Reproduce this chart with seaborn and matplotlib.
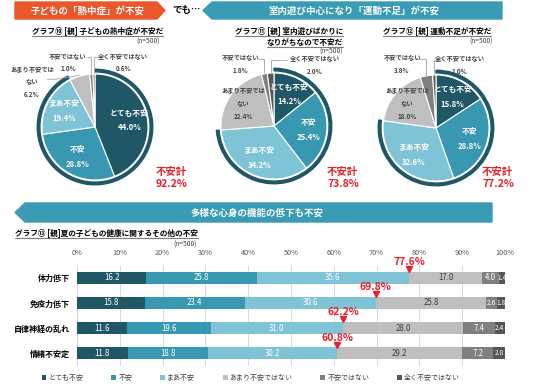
import numpy as np
import pandas as pd
import matplotlib
matplotlib.use('Agg')
import matplotlib.pyplot as plt
from matplotlib.patches import Polygon, Wedge, Patch
import seaborn as sns

sns.set_theme(style='white')
plt.rcParams['font.family'] = ['Noto Sans CJK JP', 'DejaVu Sans']

# answer levels (shared by pies and bars)
levels = ['とても不安', '不安', 'まあ不安', 'あまり不安ではない', '不安ではない', '全く不安ではない']
colors = ['#1f5767', '#3898b2', '#7fc3d6', '#bfbfbf', '#808080', '#565656']

# pie data (%)
heat_vals = [44.0, 28.8, 19.4, 6.2, 1.0, 0.6]
indoor_vals = [14.2, 25.4, 34.2, 22.4, 1.8, 2.0]
exercise_vals = [15.8, 28.8, 32.6, 18.0, 3.8, 1.0]

# bar data (%)
bar_cats = ['体力低下', '免疫力低下', '自律神経の乱れ', '情緒不安定']
very_anx = [16.2, 15.8, 11.6, 11.8]
anx = [25.8, 23.4, 19.6, 18.8]
somewhat_anx = [35.6, 30.6, 31.0, 30.2]
not_much = [17.0, 25.8, 28.0, 29.2]
not_anx = [4.0, 2.6, 7.4, 7.2]
not_at_all = [1.4, 1.8, 2.4, 2.8]

W, H = 536, 386
RED = '#e8202a'
DARK = '#404040'

fig = plt.figure(figsize=(W / 100, H / 100), dpi=100)

# overlay axes in pixel coordinates for banners and titles
ax_bg = fig.add_axes([0, 0, 1, 1])
ax_bg.set_xlim(0, W)
ax_bg.set_ylim(H, 0)
ax_bg.axis('off')

ax_bg.add_patch(Polygon([(15, 2), (157, 2), (165, 10.5), (157, 19), (15, 19)], color='#e9572b'))
ax_bg.text(88, 10.5, '子どもの「熱中症」が不安', color='white', fontsize=6.8, fontweight='bold', ha='center', va='center')
ax_bg.text(172, 10.5, 'でも…', color='black', fontsize=6.8, fontweight='bold', ha='left', va='center')
ax_bg.add_patch(Polygon([(203, 10.5), (212, 2), (502, 2), (502, 19), (212, 19)], color='#3a9cb4'))
ax_bg.text(354, 10.5, '室内遊び中心になり「運動不足」が不安', color='white', fontsize=6.8, fontweight='bold', ha='center', va='center')
ax_bg.add_patch(Polygon([(15, 212.5), (25, 203), (492, 203), (492, 222), (25, 222)], color='#3a9cb4'))
ax_bg.text(257, 212.5, '多様な心身の機能の低下も不安', color='white', fontsize=6.8, fontweight='bold', ha='center', va='center')

renderer = fig.canvas.get_renderer()


def title(x, y, s, ha='left'):
    t = ax_bg.text(x, y, s, fontsize=5.5, fontweight='bold', ha=ha, va='center', color='black')
    bb = t.get_window_extent(renderer=renderer)
    ax_bg.plot([bb.x0, bb.x1], [H - bb.y0 + 0.5] * 2, color='#7f7f7f', lw=0.8)


title(32, 31, 'グラフ⑩ [親] 子どもの熱中症が不安だ')
ax_bg.text(160, 42, '(n=500)', fontsize=4.8, ha='right', va='center', color=DARK)
title(343, 31, 'グラフ⑪ [親] 室内遊びばかりに', ha='right')
title(343, 42, 'なりがちなので不安だ', ha='right')
ax_bg.text(343, 52, '(n=500)', fontsize=4.8, ha='right', va='center', color=DARK)
title(383, 31, 'グラフ⑫ [親] 運動不足が不安だ')
ax_bg.text(493, 42, '(n=500)', fontsize=4.8, ha='right', va='center', color=DARK)
title(15, 233, 'グラフ⑬ [親]夏の子どもの健康に関するその他の不安')
ax_bg.text(197, 245, '(n=500)', fontsize=4.8, ha='right', va='center', color=DARK)

R_PX = 53


def draw_pie(cx, cy, vals, outside, total_xy, gray_inside):
    ax = fig.add_axes([(cx - 90) / W, 1 - (cy + 90) / H, 180 / W, 180 / H])
    ax.pie(vals, colors=colors, startangle=90, counterclock=False, radius=1,
           wedgeprops=dict(edgecolor='white', linewidth=0.8))
    lim = 90 / R_PX
    ax.set_xlim(-lim, lim)
    ax.set_ylim(-lim, lim)
    ax.set_aspect('equal')
    ax.axis('off')
    total = sum(vals[:3])
    ax.add_patch(Wedge((0, 0), 1.09, 90 - total * 3.6, 90, width=0.05, color=colors[0]))
    cum = np.cumsum([0] + vals[:-1])
    mids = np.deg2rad(90 - (cum + np.array(vals) / 2) * 3.6)
    for i in range(3):
        x, y = 0.66 * np.cos(mids[i]), 0.66 * np.sin(mids[i])
        ax.text(x, y + 0.14, levels[i], color='white', fontsize=5.6, fontweight='bold', ha='center', va='center')
        ax.text(x, y - 0.14, f'{vals[i]:.1f}%', color='white', fontsize=5.6, fontweight='bold', ha='center', va='center')
    if gray_inside:
        x, y = 0.72 * np.cos(mids[3]), 0.72 * np.sin(mids[3])
        ax.text(x, y, f'あまり不安では\nない\n{vals[3]:.1f}%', color=DARK, fontsize=4.5,
                fontweight='bold', ha='center', va='center', linespacing=2.0)
    for idx, (lx, ly, ex) in outside.items():
        lab = 'あまり不安では\nない' if idx == 3 else levels[idx]
        ax.text(lx, ly, f'{lab}\n{vals[idx]:.1f}%', color=DARK, fontsize=4.5, fontweight='bold',
                ha='center', va='center', linespacing=1.9)
        xs, ys = 1.02 * np.cos(mids[idx]), 1.02 * np.sin(mids[idx])
        if idx == 3:
            ax.plot([xs, ex, ex - 0.15], [ys, ly + 0.05, ly + 0.05], color='#a6a6a6', lw=0.6)
        else:
            ax.plot([xs, xs, ex], [ys, ly + 0.1, ly + 0.1], color='#a6a6a6', lw=0.6)
    ax.text(total_xy[0], total_xy[1], f'不安計\n{total:.1f}%', color=RED, fontsize=7.5, fontweight='bold',
            ha='left', va='center', linespacing=1.3)


draw_pie(95, 127, heat_vals,
         {4: (-0.51, 1.22, -0.15), 5: (0.53, 1.22, 0.12), 3: (-1.19, 0.85, -0.75)},
         (1.15, -0.96), False)
draw_pie(274, 126, indoor_vals,
         {4: (-0.64, 1.17, -0.3), 5: (0.77, 1.15, 0.25)},
         (1.0, -0.98), True)
draw_pie(436, 128, exercise_vals,
         {4: (-0.64, 1.21, -0.35), 5: (0.45, 1.19, 0.1)},
         (0.87, -0.94), True)

# stacked horizontal bars
df = pd.DataFrame({'cat': bar_cats, levels[0]: very_anx, levels[1]: anx, levels[2]: somewhat_anx,
                   levels[3]: not_much, levels[4]: not_anx, levels[5]: not_at_all})
cum = df[levels].cumsum(axis=1)

ax_bar = fig.add_axes([77 / W, 1 - 366 / H, 428 / W, 101 / H])
for lev, col in reversed(list(zip(levels, colors))):
    sns.barplot(x=cum[lev], y=df['cat'], color=col, width=0.48, saturation=1, orient='h',
                linewidth=0, ax=ax_bar, zorder=2)
ax_bar.set_xlim(0, 100)
ax_bar.set_ylim(3.5, -0.5)
ax_bar.set_xlabel('')
ax_bar.set_ylabel('')
ax_bar.xaxis.tick_top()
ax_bar.set_xticks(range(0, 101, 10))
ax_bar.set_xticklabels([f'{t}%' for t in range(0, 101, 10)])
ax_bar.tick_params(axis='x', length=0, pad=5.5, labelsize=5.3, labelcolor='#595959')
ax_bar.tick_params(axis='y', length=0, pad=5, labelsize=5.8)
for lbl in ax_bar.get_yticklabels():
    lbl.set_fontweight('bold')
    lbl.set_color('black')
ax_bar.grid(axis='x', color='#d9d9d9', lw=0.7, zorder=0)
ax_bar.grid(axis='y', visible=False)
ax_bar.set_axisbelow(True)
for s in ax_bar.spines.values():
    s.set_visible(False)

txt_colors = ['white', 'white', 'white', DARK, 'white', 'white']
for i in range(len(bar_cats)):
    left = 0
    for lev, tc in zip(levels, txt_colors):
        v = df.loc[i, lev]
        fs = 5.7 if v >= 3 else 4.8
        ax_bar.text(left + v / 2, i, f'{v:.1f}', color=tc, fontsize=fs, ha='center', va='center', zorder=3)
        left += v
    total = cum.loc[i, levels[2]]
    ax_bar.plot(total, i - 0.35, marker='v', color=RED, ms=4.5, clip_on=False, zorder=4)
    ax_bar.text(total, i - 0.62, f'{total:.1f}%', color=RED, fontsize=7.5, fontweight='bold',
                ha='center', va='center', clip_on=False, zorder=4)

handles = [Patch(facecolor=c, edgecolor='none') for c in colors]
fig.legend(handles, levels, loc='center', bbox_to_anchor=(0.468, 0.021), ncol=6, frameon=False,
           fontsize=5, handlelength=0.7, handleheight=0.7, handletextpad=0.3, columnspacing=4,
           labelcolor=DARK)

fig.savefig('out.png', dpi=100)
